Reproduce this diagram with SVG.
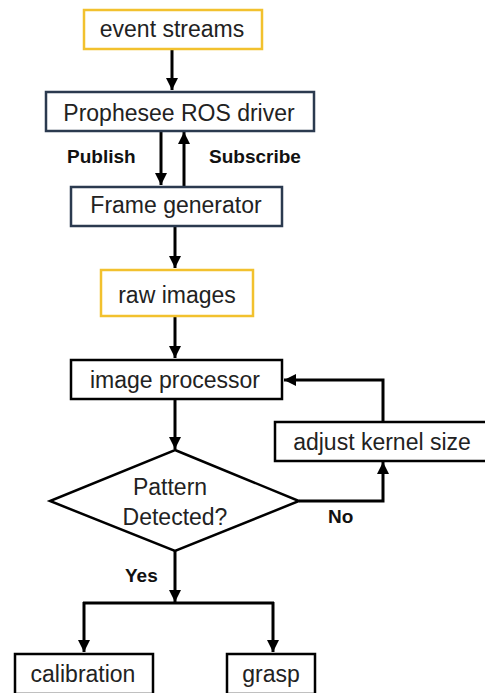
<svg xmlns="http://www.w3.org/2000/svg" width="485" height="693" viewBox="0 0 485 693">
<defs>
<marker id="ah" viewBox="0 0 10 10" refX="10" refY="5" markerWidth="4" markerHeight="4" orient="auto" markerUnits="strokeWidth">
<path d="M0,0 L10,5 L0,10 z" fill="#000"/>
</marker>
<style>
.box{fill:#fff;stroke-width:2.5}
.y{stroke:#f2c12e}
.n{stroke:#2b3a4f}
.k{stroke:#000}
.t{font-family:"Liberation Sans",Arial,sans-serif;font-size:23px;fill:#222;text-anchor:middle}
.b{font-family:"Liberation Sans",Arial,sans-serif;font-size:19px;font-weight:bold;fill:#111}
.c{fill:none;stroke:#000;stroke-width:3}
</style>
</defs>
<rect width="485" height="693" fill="#fff"/>
<g id="connectors">
<line class="c" x1="172" y1="49" x2="172" y2="90" marker-end="url(#ah)"/>
<line class="c" x1="161" y1="131" x2="161" y2="185" marker-end="url(#ah)"/>
<line class="c" x1="184" y1="186" x2="184" y2="132" marker-end="url(#ah)"/>
<line class="c" x1="175" y1="226" x2="175" y2="268" marker-end="url(#ah)"/>
<line class="c" x1="175" y1="316" x2="175" y2="358" marker-end="url(#ah)"/>
<line class="c" x1="175" y1="399" x2="175" y2="449" marker-end="url(#ah)"/>
<polyline class="c" points="383,422 383,380 284,380" marker-end="url(#ah)"/>
<polyline class="c" points="299,501 383,501 383,462" marker-end="url(#ah)"/>
<line class="c" x1="175" y1="551" x2="175" y2="602" marker-end="url(#ah)"/>
<line class="c" x1="83" y1="603" x2="274" y2="603"/>
<line class="c" x1="84" y1="602" x2="84" y2="652" marker-end="url(#ah)"/>
<line class="c" x1="273" y1="602" x2="273" y2="652" marker-end="url(#ah)"/>
<text class="b" x="67" y="163">Publish</text>
<text class="b" x="209" y="163">Subscribe</text>
<text class="b" x="328" y="523">No</text>
<text class="b" x="125" y="582">Yes</text>
</g>
<g id="event-streams"><rect class="box y" x="84" y="10" width="178" height="39"/><text class="t" x="172" y="37">event streams</text></g>
<g id="ros-driver"><rect class="box n" x="46" y="92" width="268" height="39"/><text class="t" x="179" y="121">Prophesee ROS driver</text></g>
<g id="frame-generator"><rect class="box n" x="71" y="187" width="211" height="39"/><text class="t" x="176" y="213">Frame generator</text></g>
<g id="raw-images"><rect class="box y" x="101" y="270" width="152" height="46"/><text class="t" x="177" y="303">raw images</text></g>
<g id="image-processor"><rect class="box k" x="71" y="360" width="211" height="39"/><text class="t" x="175" y="388">image processor</text></g>
<g id="adjust-kernel"><rect class="box k" x="275" y="422" width="212" height="39"/><text class="t" x="382" y="450">adjust kernel size</text></g>
<g id="pattern-detected"><polygon class="box k" points="175,450 299,501 175,551 50,501"/><text class="t" x="170" y="495">Pattern</text><text class="t" x="175" y="525">Detected?</text></g>
<g id="calibration"><rect class="box k" x="15" y="654" width="138" height="40"/><text class="t" x="83" y="682">calibration</text></g>
<g id="grasp"><rect class="box k" x="227" y="654" width="88" height="40"/><text class="t" x="271" y="682">grasp</text></g>
</svg>
